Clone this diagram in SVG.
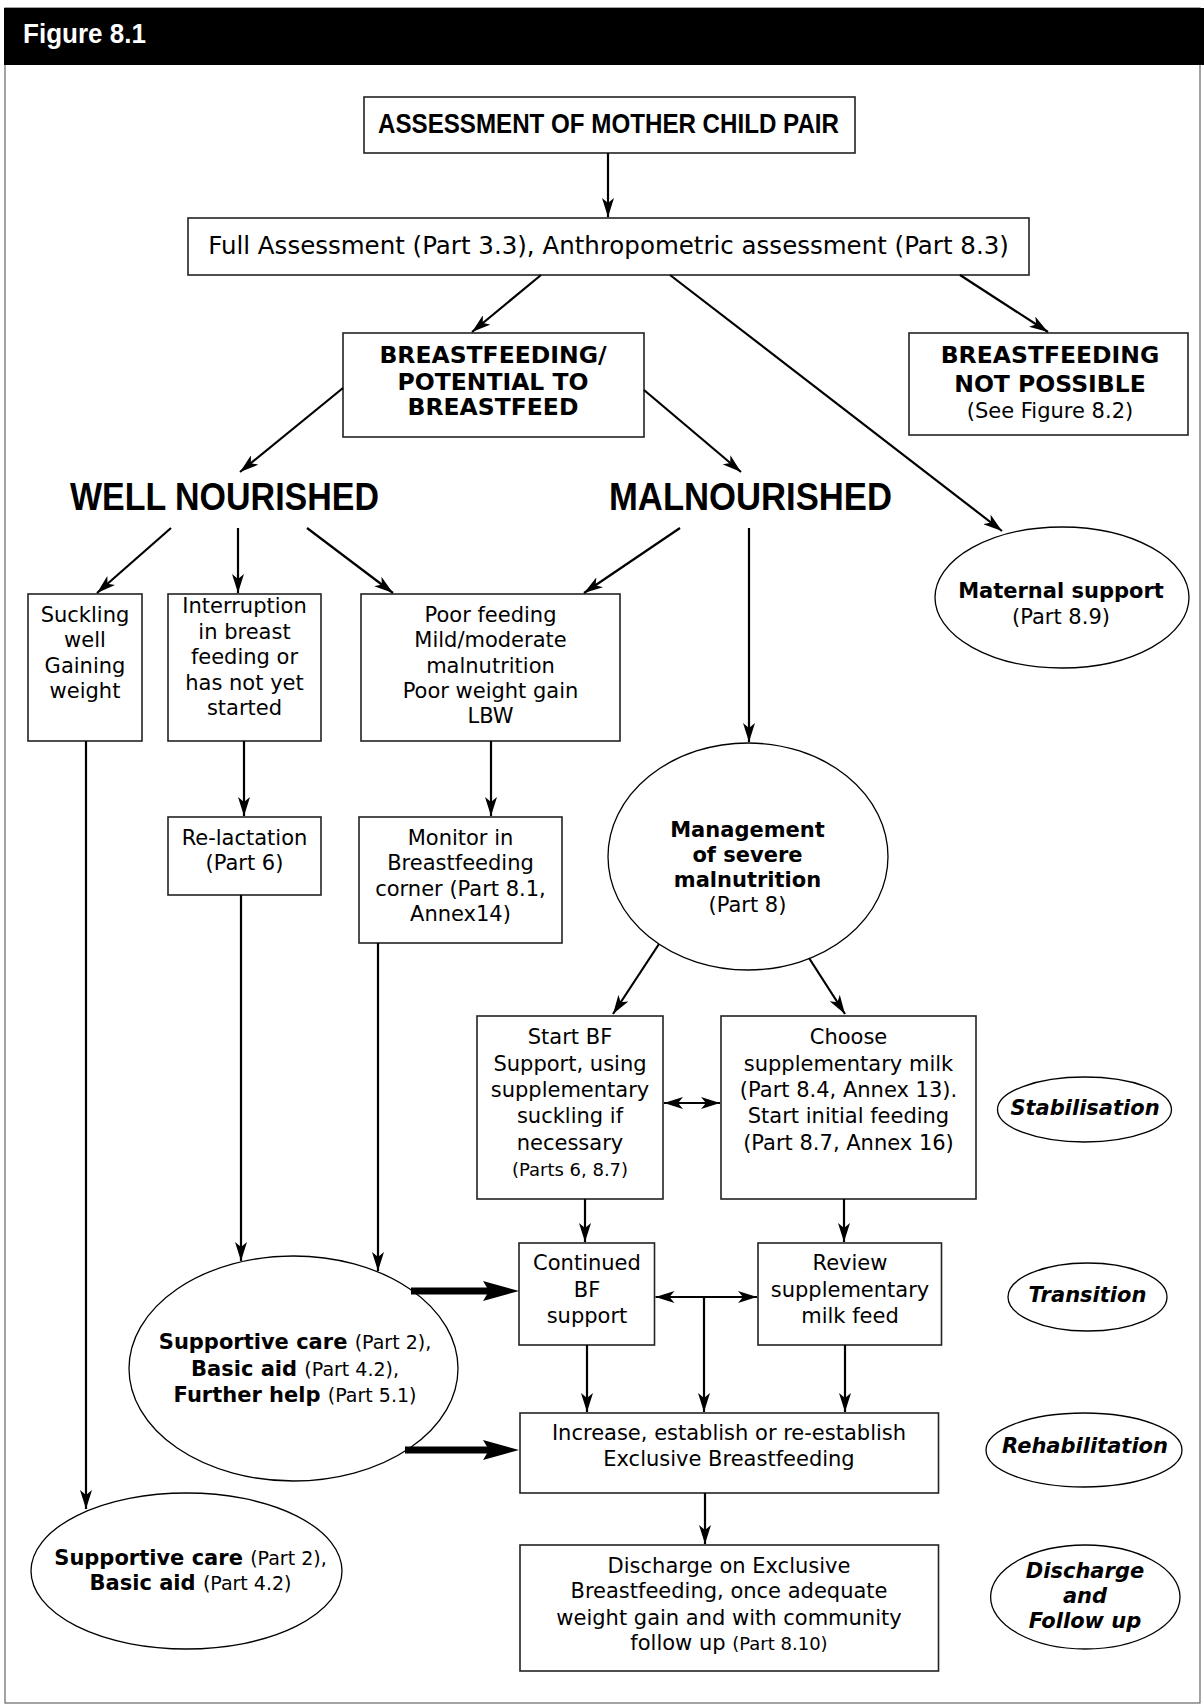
<svg xmlns="http://www.w3.org/2000/svg" width="1204" height="1707" viewBox="0 0 1204 1707">
<defs>
<style>
.t{font-family:"DejaVu Sans",Verdana,sans-serif;font-size:21px;text-anchor:middle;fill:#000}
.b{font-weight:bold}
.bi{font-weight:bold;font-style:italic}
.sm{font-size:18px;font-weight:normal}
.sm19{font-size:19px;font-weight:normal}
.hd{font-size:23.5px}
.fa{font-size:24.5px}
.h{font-family:"Liberation Sans",Arial,sans-serif;font-weight:bold;fill:#000}
.box{fill:#fff;stroke:#222;stroke-width:1.6}
.ell{fill:#fff;stroke:#000;stroke-width:1.3}
.c{fill:none;stroke:#000;stroke-width:2.2;marker-end:url(#ah)}
.d{fill:none;stroke:#000;stroke-width:2.2;marker-end:url(#ah);marker-start:url(#ah)}
.k{fill:none;stroke:#000;stroke-width:7;marker-end:url(#th)}
</style>
<marker id="ah" markerUnits="userSpaceOnUse" markerWidth="20" markerHeight="12" refX="19" refY="6" orient="auto-start-reverse" viewBox="0 0 20 12">
<path d="M0,0 L19,6 L0,12 L5,6 Z" fill="#000"/>
</marker>
<marker id="th" markerUnits="userSpaceOnUse" markerWidth="36" markerHeight="20" refX="6" refY="10" orient="auto" viewBox="0 0 36 20">
<path d="M0,0 L36,10 L0,20 L6,10 Z" fill="#000"/>
</marker>
</defs>
<rect x="0" y="0" width="1204" height="1707" fill="#fff"/>
<rect x="5" y="8" width="1195" height="1695" fill="none" stroke="#666" stroke-width="1.2"/>
<g id="header">
<rect x="4" y="8" width="1200" height="57" fill="#000"/>
<text x="23" y="43" class="h" font-size="27" style="fill:#fff" textLength="123" lengthAdjust="spacingAndGlyphs">Figure 8.1</text>
</g>
<g id="assessment">
<rect class="box" x="364" y="97" width="491" height="56"/>
<text class="h" x="378" y="133" font-size="28" textLength="461" lengthAdjust="spacingAndGlyphs">ASSESSMENT OF MOTHER CHILD PAIR</text>
</g>
<g id="full-assessment">
<rect class="box" x="188" y="218" width="841" height="57"/>
<text class="t fa" x="608.5" y="254">Full Assessment (Part 3.3), Anthropometric assessment (Part 8.3)</text>
</g>
<g id="bf-potential">
<rect class="box" x="343" y="333" width="301" height="104"/>
<text class="t b hd" x="493" y="363">BREASTFEEDING/</text>
<text class="t b hd" x="493" y="390">POTENTIAL TO</text>
<text class="t b hd" x="493" y="415">BREASTFEED</text>
</g>
<g id="bf-not-possible">
<rect class="box" x="909" y="333" width="279" height="102"/>
<text class="t b hd" x="1050" y="363">BREASTFEEDING</text>
<text class="t b hd" x="1050" y="392">NOT POSSIBLE</text>
<text class="t" x="1050" y="418">(See Figure 8.2)</text>
</g>
<g id="well-nourished">
<text class="h" x="70" y="510" font-size="39" textLength="309" lengthAdjust="spacingAndGlyphs">WELL NOURISHED</text>
</g>
<g id="malnourished">
<text class="h" x="609" y="510" font-size="39" textLength="283" lengthAdjust="spacingAndGlyphs">MALNOURISHED</text>
</g>
<g id="suckling-well">
<rect class="box" x="28" y="594" width="114" height="147"/>
<text class="t" x="85" y="622">Suckling</text>
<text class="t" x="85" y="647">well</text>
<text class="t" x="85" y="672.5">Gaining</text>
<text class="t" x="85" y="698">weight</text>
</g>
<g id="interruption">
<rect class="box" x="168" y="594" width="153" height="147"/>
<text class="t" x="244.5" y="613">Interruption</text>
<text class="t" x="244.5" y="639">in breast</text>
<text class="t" x="244.5" y="664">feeding or</text>
<text class="t" x="244.5" y="690">has not yet</text>
<text class="t" x="244.5" y="715">started</text>
</g>
<g id="poor-feeding">
<rect class="box" x="361" y="594" width="259" height="147"/>
<text class="t" x="490.5" y="622">Poor feeding</text>
<text class="t" x="490.5" y="647">Mild/moderate</text>
<text class="t" x="490.5" y="672.5">malnutrition</text>
<text class="t" x="490.5" y="698">Poor weight gain</text>
<text class="t" x="490.5" y="723">LBW</text>
</g>
<g id="maternal-support">
<ellipse class="ell" cx="1062" cy="597.5" rx="127" ry="70.5"/>
<text class="t b" x="1061" y="598">Maternal support</text>
<text class="t" x="1061" y="624">(Part 8.9)</text>
</g>
<g id="relactation">
<rect class="box" x="168" y="817" width="153" height="78"/>
<text class="t" x="244.5" y="845">Re-lactation</text>
<text class="t" x="244.5" y="870">(Part 6)</text>
</g>
<g id="monitor">
<rect class="box" x="359" y="817" width="203" height="126"/>
<text class="t" x="460.5" y="845">Monitor in</text>
<text class="t" x="460.5" y="870">Breastfeeding</text>
<text class="t" x="460.5" y="896">corner (Part 8.1,</text>
<text class="t" x="460.5" y="921">Annex14)</text>
</g>
<g id="management">
<ellipse class="ell" cx="748" cy="856.5" rx="140" ry="113.5"/>
<text class="t b" x="747.5" y="837">Management</text>
<text class="t b" x="747.5" y="862">of severe</text>
<text class="t b" x="747.5" y="887">malnutrition</text>
<text class="t" x="747.5" y="912">(Part 8)</text>
</g>
<g id="start-bf">
<rect class="box" x="477" y="1016" width="186" height="183"/>
<text class="t" x="570" y="1044">Start BF</text>
<text class="t" x="570" y="1071">Support, using</text>
<text class="t" x="570" y="1097">supplementary</text>
<text class="t" x="570" y="1123">suckling if</text>
<text class="t" x="570" y="1150">necessary</text>
<text class="t sm" x="570" y="1176">(Parts 6, 8.7)</text>
</g>
<g id="choose-milk">
<rect class="box" x="721" y="1016" width="255" height="183"/>
<text class="t" x="848.5" y="1044">Choose</text>
<text class="t" x="848.5" y="1071">supplementary milk</text>
<text class="t" x="848.5" y="1097">(Part 8.4, Annex 13).</text>
<text class="t" x="848.5" y="1123">Start initial feeding</text>
<text class="t" x="848.5" y="1150">(Part 8.7, Annex 16)</text>
</g>
<g id="stabilisation">
<ellipse class="ell" cx="1084.5" cy="1109.5" rx="87" ry="32.5"/>
<text class="t bi" x="1085" y="1115">Stabilisation</text>
</g>
<g id="continued-bf">
<rect class="box" x="519" y="1243" width="135.5" height="102"/>
<text class="t" x="587" y="1270">Continued</text>
<text class="t" x="587" y="1297">BF</text>
<text class="t" x="587" y="1323">support</text>
</g>
<g id="review-milk">
<rect class="box" x="758" y="1243" width="183.5" height="102"/>
<text class="t" x="850" y="1270">Review</text>
<text class="t" x="850" y="1297">supplementary</text>
<text class="t" x="850" y="1323">milk feed</text>
</g>
<g id="transition">
<ellipse class="ell" cx="1087.5" cy="1297" rx="79.5" ry="34"/>
<text class="t bi" x="1087.5" y="1302">Transition</text>
</g>
<g id="supportive-further">
<ellipse class="ell" cx="293.5" cy="1368.5" rx="164.5" ry="112.5"/>
<text class="t b" x="295" y="1349">Supportive care <tspan class="sm19">(Part 2),</tspan></text>
<text class="t b" x="295" y="1376">Basic aid <tspan class="sm19">(Part 4.2),</tspan></text>
<text class="t b" x="295" y="1402">Further help <tspan class="sm19">(Part 5.1)</tspan></text>
</g>
<g id="increase-ebf">
<rect class="box" x="520" y="1413" width="418.5" height="80"/>
<text class="t" x="729" y="1440">Increase, establish or re-establish</text>
<text class="t" x="729" y="1466">Exclusive Breastfeeding</text>
</g>
<g id="rehabilitation">
<ellipse class="ell" cx="1084" cy="1450" rx="98" ry="37"/>
<text class="t bi" x="1085" y="1453">Rehabilitation</text>
</g>
<g id="supportive-basic">
<ellipse class="ell" cx="186.5" cy="1571" rx="155.5" ry="78"/>
<text class="t b" x="190.5" y="1565">Supportive care <tspan class="sm19">(Part 2),</tspan></text>
<text class="t b" x="190.5" y="1590">Basic aid <tspan class="sm19">(Part 4.2)</tspan></text>
</g>
<g id="discharge">
<rect class="box" x="520" y="1545" width="418.5" height="126"/>
<text class="t" x="729" y="1573">Discharge on Exclusive</text>
<text class="t" x="729" y="1598">Breastfeeding, once adequate</text>
<text class="t" x="729" y="1625">weight gain and with community</text>
<text class="t" x="729" y="1650">follow up <tspan class="sm">(Part 8.10)</tspan></text>
</g>
<g id="discharge-followup">
<ellipse class="ell" cx="1085.3" cy="1597" rx="94.7" ry="52"/>
<text class="t bi" x="1085" y="1578">Discharge</text>
<text class="t bi" x="1085" y="1603">and</text>
<text class="t bi" x="1085" y="1628">Follow up</text>
</g>
<g id="connectors">
<line class="c" x1="608" y1="153" x2="608" y2="217"/>
<line class="c" x1="541" y1="275" x2="472" y2="332"/>
<line class="c" x1="670" y1="275" x2="1002" y2="531"/>
<line class="c" x1="960" y1="275" x2="1048" y2="332"/>
<line class="c" x1="343" y1="388" x2="240" y2="472"/>
<line class="c" x1="644" y1="390" x2="741" y2="472"/>
<line class="c" x1="171" y1="528" x2="97" y2="593"/>
<line class="c" x1="238" y1="528" x2="238" y2="593"/>
<line class="c" x1="307" y1="528" x2="393" y2="593"/>
<line class="c" x1="680" y1="528" x2="584" y2="593"/>
<line class="c" x1="749" y1="528" x2="749" y2="742"/>
<line class="c" x1="86" y1="741" x2="86" y2="1509"/>
<line class="c" x1="244" y1="741" x2="244" y2="816"/>
<line class="c" x1="491" y1="741" x2="491" y2="816"/>
<line class="c" x1="241" y1="895" x2="241" y2="1261"/>
<line class="c" x1="378" y1="943" x2="378" y2="1271"/>
<line class="c" x1="659" y1="944" x2="613" y2="1014"/>
<line class="c" x1="809" y1="958" x2="845" y2="1014"/>
<line class="d" x1="664" y1="1103" x2="720" y2="1103"/>
<line class="c" x1="585" y1="1199" x2="585" y2="1242"/>
<line class="c" x1="844" y1="1199" x2="844" y2="1242"/>
<line class="d" x1="655.5" y1="1297" x2="757" y2="1297"/>
<line class="c" x1="704" y1="1297" x2="704" y2="1412"/>
<line class="c" x1="587" y1="1345" x2="587" y2="1412"/>
<line class="c" x1="845" y1="1345" x2="845" y2="1412"/>
<line class="c" x1="705" y1="1493" x2="705" y2="1544"/>
<line class="k" x1="411" y1="1291" x2="489" y2="1291"/>
<line class="k" x1="405" y1="1450" x2="489" y2="1450"/>
</g>
</svg>
